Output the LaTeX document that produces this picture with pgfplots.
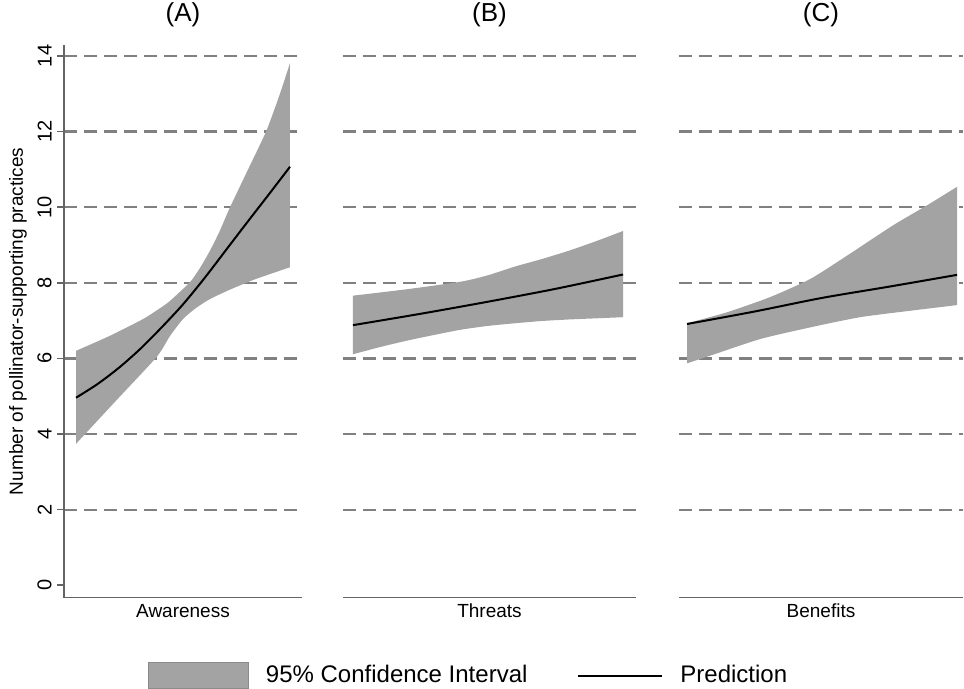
\documentclass[border=0pt]{standalone}
\usepackage{fontspec}
\setmainfont{Liberation Sans}
\usepackage{pgfplots}
\pgfplotsset{compat=1.18}
\usepgfplotslibrary{fillbetween}
\definecolor{bandgray}{RGB}{163,163,163}
\definecolor{gridgray}{RGB}{128,128,128}
\definecolor{axisgray}{RGB}{100,100,100}

\pgfplotsset{
  panel/.style={
    scale only axis, height=276.35pt,
    ymin=-0.329, ymax=14.29,
    xtick=\empty,
    ytick={2,4,...,14},
    ymajorgrids,
    major grid style={gridgray, line width=1.1pt, dash pattern=on 6.5pt off 3.5pt},
    axis x line=bottom, axis y line=left,
    axis line style={axisgray, line width=0.8pt},
    x axis line style={-}, y axis line style={-},
    every outer x axis line/.append style={-},
    every outer y axis line/.append style={-},
    xlabel style={font=\fontsize{9.5}{11}\selectfont, at={(axis description cs:0.5,0)}, anchor=north, inner sep=0pt, yshift=-3pt},
    title style={font=\fontsize{13}{15}\selectfont, at={(axis description cs:0.5,1)}, anchor=base, inner sep=0pt, yshift=5.5pt},
  },
  band/.style={fill=bandgray, draw=none},
  pred/.style={black, line width=1pt, smooth},
}

\begin{document}
\begin{tikzpicture}

% ---------------- Panel A ----------------
\begin{axis}[panel,
  at={(32pt,45.65pt)}, anchor=south west, width=119pt,
  xmin=-0.0561, xmax=1.0561,
  tick align=outside, major tick length=3.5pt,
  ytick style={axisgray, line width=0.8pt},
  extra y ticks={0}, extra y tick style={grid=none},
  /pgf/number format/assume math mode=true,
  yticklabel style={rotate=90, anchor=south, font=\fontsize{10}{11}\selectfont, inner sep=0pt, yshift=2.5pt},
  ylabel={Number of pollinator-supporting practices},
  ylabel style={font=\fontsize{9.5}{11}\selectfont, at={(axis description cs:-0.193,0.5)}, anchor=center, inner sep=0pt},
  xlabel={Awareness},
  title={(A)},
  legend style={at={(axis description cs:0.3529,-0.1652)}, anchor=south west,
    draw=none, fill=none, inner sep=0pt, outer sep=0pt,
    legend columns=-1, font=\fontsize{12}{14}\selectfont,
    nodes={inner sep=0pt},
    /tikz/every odd column/.append style={column sep=8.5pt},
    /tikz/every even column/.append style={column sep=25pt}},
  legend cell align=left,
]
\addplot[name path=Aup, draw=none, forget plot, smooth, tension=0.4] coordinates {
(0,6.20) (0.159,6.60) (0.313,7.04) (0.393,7.33) (0.439,7.52) (0.533,8.02)
(0.58,8.4) (0.626,8.85) (0.67,9.35) (0.72,10.0) (0.80,10.95) (0.888,12.0) (0.95,12.95) (1,13.81)};
\addplot[name path=Alo, draw=none, forget plot, smooth, tension=0.4] coordinates {
(0,3.74) (0.19,4.9) (0.377,6.04) (0.44,6.6) (0.5,7.04) (0.56,7.33)
(0.626,7.57) (0.72,7.82) (0.84,8.10) (1,8.41)};
\addplot[band, forget plot] fill between[of=Aup and Alo];
\addplot[pred, forget plot] coordinates {
(0,4.96) (0.1,5.32) (0.2,5.75) (0.3,6.25) (0.4,6.82) (0.5,7.43)
(0.6,8.12) (0.7,8.86) (0.8,9.6) (0.9,10.33) (1,11.07)};
\addlegendimage{legend image code/.code={\filldraw[fill=bandgray, draw=bandgray!85!black, line width=0.5pt] (0pt,-6.5pt) rectangle (50pt,6.5pt);}}
\addlegendentry{95\% Confidence Interval}
\addlegendimage{legend image code/.code={\draw[black, line width=1pt] (0pt,0pt) -- (42pt,0pt);}}
\addlegendentry{Prediction}
\end{axis}

% ---------------- Panel B ----------------
\begin{axis}[panel,
  at={(171.5pt,45.65pt)}, anchor=south west, width=146.5pt,
  xmin=-0.037, xmax=1.048,
  y axis line style={draw=none}, yticklabels={}, ytick style={draw=none},
  xlabel={Threats},
  title={(B)},
]
\addplot[name path=Bup, draw=none, smooth, tension=0.4] coordinates {
(0,7.66) (0.2,7.83) (0.4,8.03) (0.5,8.2) (0.6,8.43) (0.7,8.63) (0.8,8.85) (0.9,9.1) (1,9.37)};
\addplot[name path=Blo, draw=none, smooth, tension=0.4] coordinates {
(0,6.11) (0.1,6.3) (0.2,6.47) (0.3,6.62) (0.4,6.76) (0.5,6.86) (0.6,6.93) (0.7,6.99) (0.8,7.03) (0.9,7.06) (1,7.09)};
\addplot[band] fill between[of=Bup and Blo];
\addplot[pred] coordinates {
(0,6.88) (0.25,7.18) (0.5,7.50) (0.75,7.84) (1,8.22)};
\end{axis}

% ---------------- Panel C ----------------
\begin{axis}[panel,
  at={(339.5pt,45.65pt)}, anchor=south west, width=142pt,
  xmin=-0.0296, xmax=1.022,
  y axis line style={draw=none}, yticklabels={}, ytick style={draw=none},
  xlabel={Benefits},
  title={(C)},
]
\addplot[name path=Cup, draw=none, smooth, tension=0.4] coordinates {
(0,6.93) (0.148,7.22) (0.307,7.62) (0.456,8.10) (0.593,8.72) (0.763,9.52) (0.889,10.05) (1,10.54)};
\addplot[name path=Clo, draw=none, smooth, tension=0.4] coordinates {
(0,5.87) (0.085,6.07) (0.27,6.51) (0.456,6.82) (0.641,7.09) (0.826,7.26) (1,7.41)};
\addplot[band] fill between[of=Cup and Clo];
\addplot[pred] coordinates {
(0,6.91) (0.25,7.24) (0.5,7.6) (0.75,7.9) (1,8.21)};
\end{axis}

\pgfresetboundingbox
\useasboundingbox (0pt,0pt) rectangle (482pt,344.5pt);
\end{tikzpicture}
\end{document}
